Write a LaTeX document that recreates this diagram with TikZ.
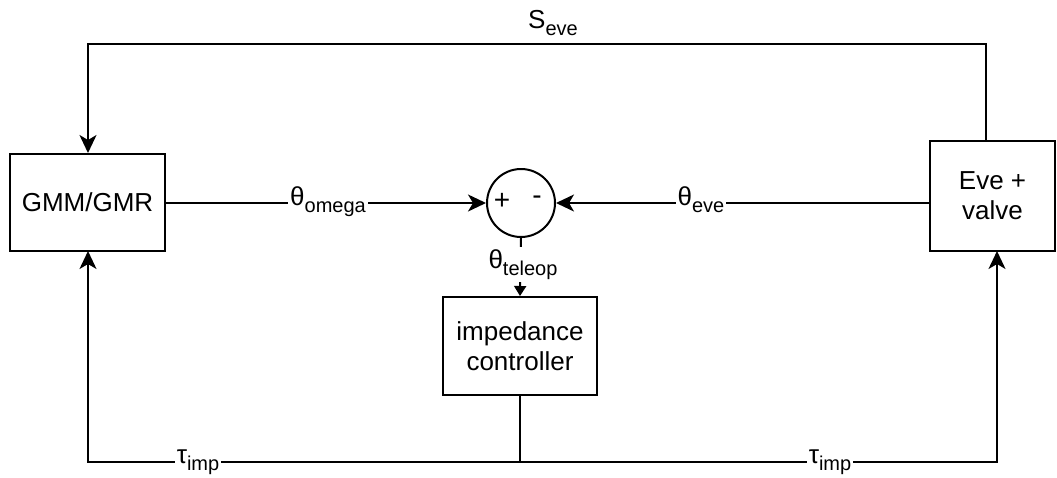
\documentclass[tikz,border=0pt]{standalone}
\usepackage{fontspec}
\setmainfont{Liberation Sans}
\usetikzlibrary{arrows.meta,calc}

% signal label with a lowered, smaller subscript
\newcommand\sig[2]{#1\raisebox{-7.5pt}{\fontsize{20}{20}\selectfont #2}}

\begin{document}
\begin{tikzpicture}[x=1pt,y=-1pt,
  line width=2pt,
  font=\fontsize{26}{30}\selectfont,
  blockbox/.style={draw,rectangle,line width=2pt,align=center,inner sep=0pt},
  sumnode/.style={draw,circle,line width=2pt,inner sep=0pt,minimum size=68pt},
  wire/.style={line width=2pt},
  flow/.style={wire,-{Stealth[length=18pt,width=17pt,inset=5pt]}},
  smallflow/.style={wire,-{Triangle[length=10pt,width=12pt]}},
  siglabel/.style={fill=white,inner sep=2pt,anchor=base}
]
\useasboundingbox (0,0) rectangle (1057,477);

% blocks
\node[blockbox,minimum width=155pt,minimum height=97pt] (gmm) at (87.5,202.5) {GMM/GMR};
\node[blockbox,minimum width=125pt,minimum height=110pt] (eve) at (992.5,196) {Eve +\\valve};
\node[blockbox,minimum width=154pt,minimum height=98pt] (imp) at (520,346) {impedance\\controller};
\node[sumnode] (sum) at (521,203) {};
\node[font=\fontsize{28}{30}\selectfont] (plus) at (502,201) {+};
\node[font=\fontsize{28}{30}\selectfont] (minus) at (537,200) {-};

% forward paths into the summing junction
\draw[flow] (gmm.east |- sum.west) -- (sum.west);
\draw[flow] (eve.west |- sum.east) -- (sum.east);
\node[siglabel] (lomega) at (328,205) {\sig{θ}{omega}};
\node[siglabel] (leve) at (701,205) {\sig{θ}{eve}};

% error signal to the impedance controller
\draw[smallflow] (sum.south) -- (imp.north);
\node[siglabel] (lteleop) at (523,268) {\sig{θ}{teleop}};

% torque feedback to both blocks
\coordinate (junc) at (520,462);
\draw[wire] (imp.south) -- (junc);
\draw[flow] (junc) -- (88,462) -- (88,251);
\draw[flow] (junc) -- (997,462) -- (997,251);
\node[siglabel] (limpl) at (198,463) {\sig{τ}{imp}};
\node[siglabel] (limpr) at (830,463) {\sig{τ}{imp}};

% state feedback over the top
\draw[flow] (986,141) -- (986,44) -- (88,44) -- (gmm.north -| 88,0);
\node[siglabel] (lseve) at (553,28) {\sig{S}{eve}};
\end{tikzpicture}
\end{document}
